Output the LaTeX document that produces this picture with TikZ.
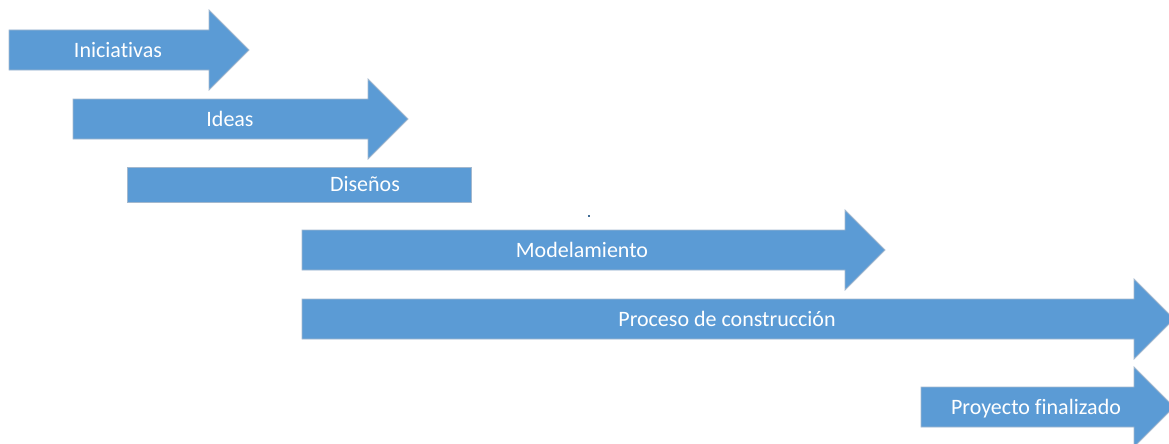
\documentclass[tikz,border=0pt]{standalone}
\usepackage{fontspec}
\setmainfont{Carlito}[Ligatures={NoCommon}]
\definecolor{faseazul}{HTML}{5B9BD5}
\definecolor{faseborde}{HTML}{A3B8CE}
\tikzset{
	fase/.style={fill=faseazul, draw=faseborde, line width=0.8pt, line join=miter},
	etiqueta/.style={text=white, font=\fontsize{22}{26}\selectfont, anchor=base, inner sep=0pt}
}

\begin{document}
\begin{tikzpicture}[x=1pt, y=-1pt]
			\def \cab{ 40 };
			\def \ala{ 20 };
			\useasboundingbox (0,0) rectangle (1169,444);
			% flechas
			\draw[fase] (9,30) -- (209,30) -- (209,30-\ala) -- (209+\cab,50) -- (209,70+\ala) -- (209,70) -- (9,70) -- cycle;
			\draw[fase] (73,99) -- (368,99) -- (368,99-\ala) -- (368+\cab,119) -- (368,139+\ala) -- (368,139) -- (73,139) -- cycle;
			\draw[fase] (127,167) rectangle (471,202);
			\draw[fase] (302,230) -- (845,230) -- (845,230-\ala) -- (845+\cab,250) -- (845,270+\ala) -- (845,270) -- (302,270) -- cycle;
			\draw[fase] (302,299) -- (1134,299) -- (1134,299-\ala) -- (1134+\cab,319) -- (1134,339+\ala) -- (1134,339) -- (302,339) -- cycle;
			\draw[fase] (921,387) -- (1134,387) -- (1134,387-\ala) -- (1134+\cab,407) -- (1134,427+\ala) -- (1134,427) -- (921,427) -- cycle;
			\fill[faseazul!70!black] (587.5,214.5) rectangle (589.5,216.5);
			% textos
			\node[etiqueta] (ini) at (118,57) {Iniciativas};
			\node[etiqueta] (ide) at (230,126) {Ideas};
			\node[etiqueta] (dis) at (365,191) {Diseños};
			\node[etiqueta] (mod) at (582,257) {Modelamiento};
			\node[etiqueta] (pro) at (727,326) {Proceso de construcción};
			\node[etiqueta] (fin) at (1036,414) {Proyecto finalizado};
		\end{tikzpicture}
\end{document}
